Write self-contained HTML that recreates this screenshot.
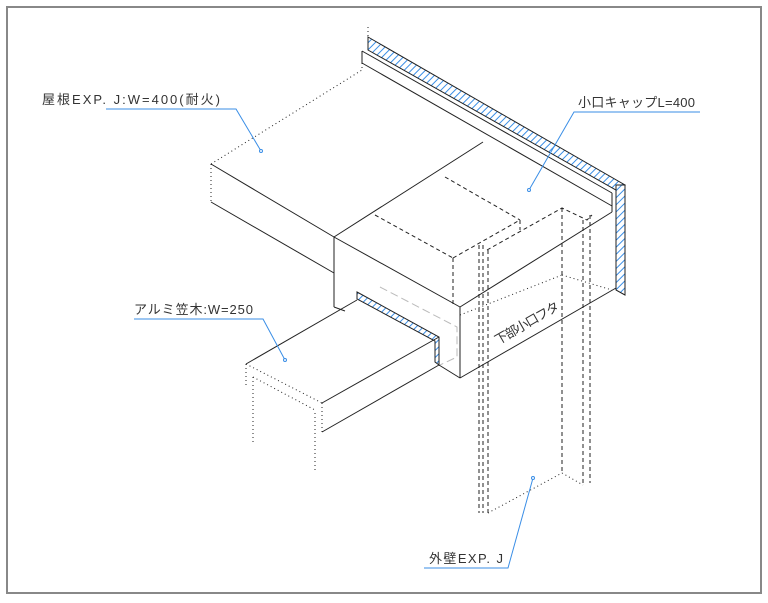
<!DOCTYPE html>
<html><head><meta charset="utf-8"><style>
html,body{margin:0;padding:0;background:#fff;}
svg{display:block;}
text{font-family:"Liberation Sans","Noto Sans CJK JP",sans-serif;font-size:13px;fill:#333;}
</style></head><body>
<svg width="768" height="603" viewBox="0 0 768 603" xmlns="http://www.w3.org/2000/svg">
<defs>
<pattern id="h" width="5" height="5" patternUnits="userSpaceOnUse" patternTransform="rotate(45)">
<rect width="5" height="5" fill="#fff"/><line x1="0" y1="0" x2="0" y2="5" stroke="#3a8ee6" stroke-width="2"/>
</pattern>
</defs>
<rect x="7" y="7" width="754" height="586" fill="none" stroke="#888" stroke-width="2"/>
<g stroke="#222" stroke-width="1" fill="none">
<polygon points="368,37 625,185 616,190 368,50" fill="url(#h)" stroke="#222"/>
<polygon points="616,185 625,185 625,295 616,290" fill="url(#h)" stroke="#222"/>
<line x1="368" y1="27" x2="368" y2="50" stroke-dasharray="1,3"/>
<line x1="362" y1="51" x2="612" y2="193"/>
<line x1="362" y1="63" x2="612" y2="206"/>
<line x1="362" y1="51" x2="362" y2="63"/>
<line x1="612" y1="193" x2="612" y2="212"/>
<line x1="612" y1="212" x2="460" y2="307"/>
<line x1="362" y1="63" x2="362" y2="70" stroke-dasharray="1,3"/>
<line x1="211" y1="164" x2="362" y2="70" stroke-dasharray="1,3"/>
<line x1="211" y1="164" x2="211" y2="202" stroke-dasharray="1,3"/>
<line x1="211" y1="164" x2="334" y2="237"/>
<line x1="211" y1="202" x2="334" y2="273"/>
<line x1="334" y1="237" x2="483" y2="142"/>
<line x1="334" y1="237" x2="334" y2="307"/>
<line x1="334" y1="237" x2="460" y2="307"/>
<line x1="460" y1="307" x2="460" y2="378"/>
<line x1="334" y1="307" x2="345" y2="311"/>
<line x1="439" y1="365" x2="460" y2="378"/>
<line x1="460" y1="378" x2="616" y2="288"/>
<line x1="616" y1="290" x2="625" y2="295"/>
<g stroke-dasharray="4,3">
<line x1="375" y1="215" x2="453" y2="258"/>
<line x1="453" y1="258" x2="453" y2="307"/>
<line x1="453" y1="258" x2="520" y2="220"/>
<line x1="445" y1="177" x2="520" y2="220"/>
<line x1="520" y1="220" x2="520" y2="230"/>
<polyline points="487,250 562,208 587,220 592,215"/>
<line x1="479" y1="245" x2="479" y2="513"/>
<line x1="483" y1="245" x2="483" y2="513"/>
<line x1="488" y1="250" x2="488" y2="513"/>
<line x1="562" y1="208" x2="562" y2="473"/>
<line x1="583" y1="220" x2="583" y2="485"/>
<line x1="590" y1="215" x2="590" y2="483"/>
</g>
<g stroke-dasharray="1,3">
<line x1="460" y1="315" x2="562" y2="275"/>
<line x1="562" y1="275" x2="612" y2="290"/>
<line x1="488" y1="513" x2="562" y2="473"/>
<line x1="562" y1="473" x2="583" y2="485"/>
</g>
<polygon points="357,292 439,337 439,365 435,362 435,341 357,299" fill="url(#h)" stroke="#222"/>
<g stroke="#bbb" stroke-dasharray="8,4">
<polyline points="380,287 457,327 457,357 440,365"/>
</g>
<line x1="246" y1="364" x2="357" y2="300"/>
<line x1="322" y1="403" x2="439" y2="337"/>
<line x1="322" y1="432" x2="439" y2="365"/>
<g stroke-dasharray="1,3">
<line x1="246" y1="364" x2="322" y2="403"/>
<line x1="253" y1="377" x2="315" y2="410"/>
<line x1="322" y1="403" x2="322" y2="432"/>
<line x1="246" y1="364" x2="246" y2="387"/>
<line x1="253" y1="377" x2="253" y2="443"/>
<line x1="315" y1="413" x2="315" y2="470"/>
</g>
</g>
<g stroke="#3a8ee6" stroke-width="1" fill="none">
<polyline points="106,109 236,109 261,151"/>
<polyline points="700,112 574,112 529,190"/>
<polyline points="134,319 263,319 285,360"/>
<polyline points="424,568 508,568 533,478"/>
</g>
<g fill="#fff" stroke="#3a8ee6"><circle cx="261" cy="151" r="1.5"/><circle cx="529" cy="190" r="1.5"/><circle cx="285" cy="360" r="1.5"/><circle cx="533" cy="478" r="1.5"/></g>
<text x="42" y="104" textLength="178" lengthAdjust="spacing">屋根EXP. J:W=400(耐火)</text>
<text x="578" y="107" textLength="117" lengthAdjust="spacing">小口キャップL=400</text>
<text x="134" y="314" textLength="119" lengthAdjust="spacing">アルミ笠木:W=250</text>
<text x="429" y="563" textLength="74" lengthAdjust="spacing">外壁EXP. J</text>
<text x="0" y="0" transform="translate(498,345) rotate(-30)" textLength="72" lengthAdjust="spacing">下部小口フタ</text>
</svg>
</body></html>
